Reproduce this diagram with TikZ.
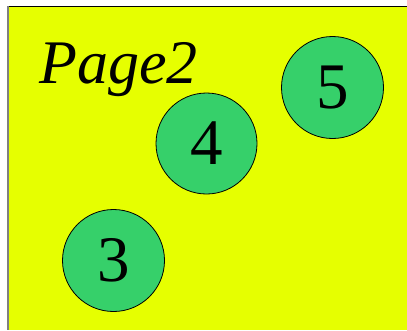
\documentclass[tikz,border=0pt]{standalone}
\usepackage{fontspec}
\setmainfont{Liberation Serif}
\definecolor{bgyellow}{HTML}{E6FF00}
\definecolor{ballgreen}{HTML}{36D06A}
\begin{document}
\begin{tikzpicture}[x=1pt,y=-1pt,
  ball/.style={circle,draw=black,line width=0.8pt,fill=ballgreen,minimum size=101pt,inner sep=0pt,font=\fontsize{65}{65}\selectfont}]
\useasboundingbox (0,0) rectangle (407,330);
\fill[white] (0,0) rectangle (407,330);
\fill[bgyellow] (8,6) rectangle (407,330);
\draw[black,line width=1pt] (8,6) -- (407,6);
\draw[gray,line width=1.5pt] (8,6) -- (8,330);
\node[anchor=base west,inner sep=0pt,font=\fontsize{62}{62}\selectfont\itshape] (title) at (39,83) {Page2};
\node[ball] (n4) at (206.5,143.5) {4};
\node[ball,minimum size=102pt] (n3) at (113.5,260.5) {3};
\node[ball,minimum size=102pt] (n5) at (332.5,87.5) {5};
\end{tikzpicture}
\end{document}
